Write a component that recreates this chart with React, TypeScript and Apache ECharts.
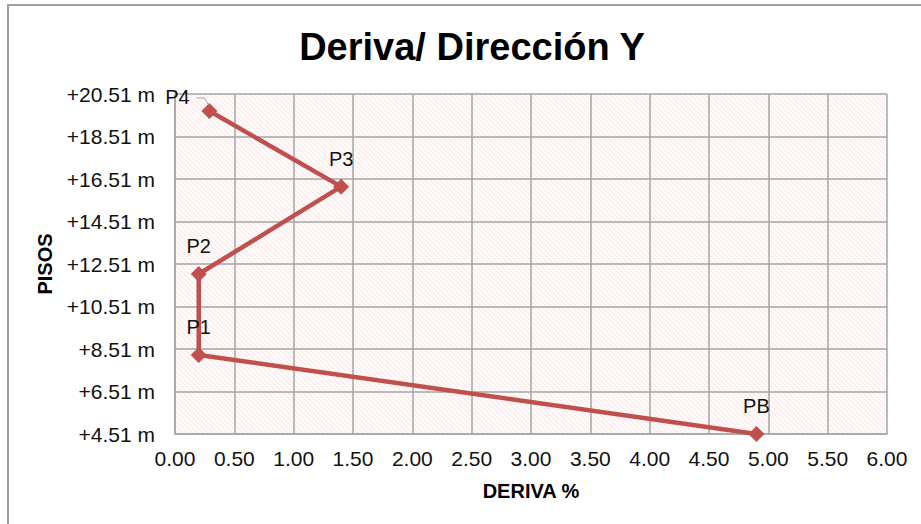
import React, { useEffect, useRef } from "react";
import * as echarts from "echarts";

const pointNames = ["PB", "P1", "P2", "P3", "P4"];
const deriva = [4.9, 0.2, 0.2, 1.4, 0.29];
const alturas = [4.51, 8.23, 12.04, 16.15, 19.71];
const baseAltura = 4.51;
const xTicks = [0, 6, 0.5];
const yRange = [4.51, 20.51, 2];

function makeHatch(): string {
  const c = document.createElement("canvas");
  const s = 5;
  c.width = s;
  c.height = s;
  const ctx = c.getContext("2d")!;
  ctx.fillStyle = "#fffbfa";
  ctx.fillRect(0, 0, s, s);
  ctx.strokeStyle = "rgba(228,170,170,0.3)";
  ctx.lineWidth = 1;
  ctx.beginPath();
  ctx.moveTo(-1, -1);
  ctx.lineTo(s + 1, s + 1);
  ctx.moveTo(-1, s - 1);
  ctx.lineTo(1, s + 1);
  ctx.moveTo(s - 1, -1);
  ctx.lineTo(s + 1, 1);
  ctx.stroke();
  return c.toDataURL();
}

export default function App() {
  const ref = useRef<HTMLDivElement>(null);
  useEffect(() => {
    if (!ref.current) return;
    const chart = echarts.init(ref.current, undefined, { renderer: "svg" });
    const font = "'Liberation Sans', Arial, sans-serif";
    const data = deriva.map((x, i) => ({
      value: [x, alturas[i] - baseAltura],
      name: pointNames[i],
    }));
    const frame = {
      type: "rect",
      shape: { x: 8, y: 5, width: 940, height: 560 },
      style: { fill: "none", stroke: "#a0a0a0", lineWidth: 2 },
      silent: true,
    };
    chart.setOption({
      animation: false,
      backgroundColor: "#ffffff",
      title: {
        text: "Deriva/ Dirección Y",
        left: 467,
        top: 23,
        textAlign: "center",
        textStyle: { fontFamily: font, fontSize: 38, fontWeight: "bold", color: "#000" },
      },
      graphic: [frame],
      grid: {
        left: 175,
        right: 34,
        top: 94,
        bottom: 90,
        show: true,
        borderWidth: 0,
        backgroundColor: { image: makeHatch(), repeat: "repeat" },
      },
      xAxis: {
        type: "value",
        min: xTicks[0],
        max: xTicks[1],
        interval: xTicks[2],
        name: "DERIVA %",
        nameLocation: "middle",
        nameGap: 47,
        nameTextStyle: { fontFamily: font, fontSize: 20, fontWeight: "bold", color: "#000" },
        axisLine: { show: true, lineStyle: { color: "#a6a6a6", width: 1.5 } },
        axisTick: { show: false },
        axisLabel: {
          fontFamily: font,
          fontSize: 21,
          color: "#111",
          margin: 14,
          formatter: (v: number) => v.toFixed(2),
        },
        splitLine: { show: true, lineStyle: { color: "#a6a6a6", width: 1.5 } },
      },
      yAxis: {
        type: "value",
        min: 0,
        max: yRange[1] - yRange[0],
        interval: yRange[2],
        name: "PISOS",
        nameLocation: "middle",
        nameGap: 120,
        nameTextStyle: { fontFamily: font, fontSize: 20, fontWeight: "bold", color: "#000" },
        axisLine: { show: true, lineStyle: { color: "#a6a6a6", width: 1.5 } },
        axisTick: { show: false },
        axisLabel: {
          fontFamily: font,
          fontSize: 21,
          color: "#111",
          margin: 20,
          formatter: (v: number) => "+" + (v + baseAltura).toFixed(2) + " m",
        },
        splitLine: { show: true, lineStyle: { color: "#a6a6a6", width: 1.5 } },
      },
      series: [
        {
          type: "line",
          data,
          symbol: "diamond",
          symbolSize: 16,
          itemStyle: { color: "#c0504d" },
          lineStyle: { color: "#c0504d", width: 4.5 },
          label: {
            show: true,
            position: "top",
            distance: 10,
            fontFamily: font,
            fontSize: 20,
            color: "#111",
            formatter: (p: any) => p.name,
          },
          labelLayout: (p: any) => (p.dataIndex === 4 ? { dx: -32, dy: 14 } : {}),
        },
      ],
    });
    const p4 = chart.convertToPixel({ seriesIndex: 0 }, data[4].value) as number[];
    chart.setOption({
      graphic: [
        frame,
        {
          type: "polyline",
          z: 100,
          shape: {
            points: [
              [p4[0] - 13, p4[1] - 13],
              [p4[0] - 5, p4[1] - 13],
              [p4[0] - 1, p4[1] - 6],
            ],
          },
          style: { fill: "none", stroke: "#a8a8a8", lineWidth: 1 },
          silent: true,
        },
      ],
    });
    return () => chart.dispose();
  }, []);
  return (
    <div
      ref={ref}
      style={{ position: "fixed", left: 0, top: 0, width: 921, height: 524 }}
    />
  );
}
